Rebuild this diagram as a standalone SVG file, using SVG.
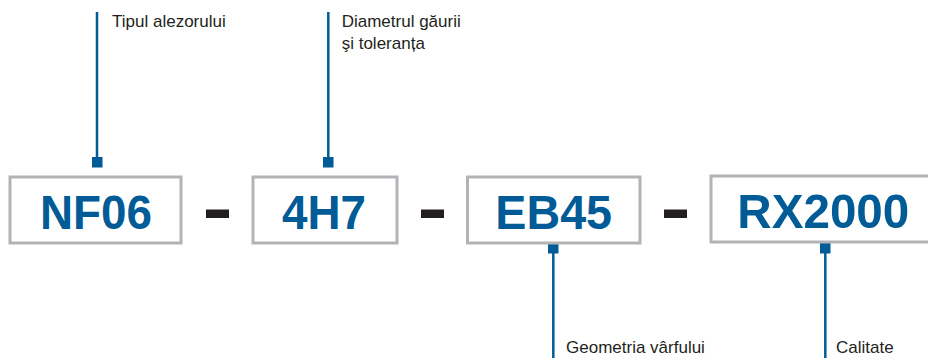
<svg xmlns="http://www.w3.org/2000/svg" width="928" height="358" viewBox="0 0 928 358">
<style>
.box{fill:#fff;stroke:#b1b3b6;stroke-width:3}
.code{font-family:"Liberation Sans",Arial,sans-serif;font-weight:bold;font-size:49px;fill:#005b96;text-anchor:middle}
.lbl{font-family:"Liberation Sans",Arial,sans-serif;font-size:17px;fill:#231f20}
.dash{fill:#231f20}
.ln{stroke:#005b96;stroke-width:2.5;fill:none}
.sq{fill:#005b96}
</style>
<rect width="928" height="358" fill="#fff"/>
<g id="connectors">
<line class="ln" x1="97" y1="12" x2="97" y2="162"/>
<rect class="sq" x="92" y="157" width="10.5" height="10.5"/>
<line class="ln" x1="328.3" y1="12" x2="328.3" y2="162"/>
<rect class="sq" x="323" y="157" width="10.5" height="10.5"/>
<line class="ln" x1="553.3" y1="248" x2="553.3" y2="358"/>
<rect class="sq" x="548" y="243" width="10.5" height="10.5"/>
<line class="ln" x1="825.3" y1="248" x2="825.3" y2="358"/>
<rect class="sq" x="820" y="243" width="10.5" height="10.5"/>
</g>
<g id="node-nf06">
<rect class="box" x="10" y="177" width="171" height="66"/>
<text class="code" x="96" y="229" textLength="112" lengthAdjust="spacingAndGlyphs">NF06</text>
</g>
<g id="node-4h7">
<rect class="box" x="253" y="177" width="144" height="66"/>
<text class="code" x="324" y="229" textLength="84" lengthAdjust="spacingAndGlyphs">4H7</text>
</g>
<g id="node-eb45">
<rect class="box" x="467.5" y="177" width="172.5" height="66"/>
<text class="code" x="553.7" y="229" textLength="116.7" lengthAdjust="spacingAndGlyphs">EB45</text>
</g>
<g id="node-rx2000">
<rect class="box" x="711" y="176" width="230" height="66"/>
<text class="code" x="823.3" y="228" textLength="172" lengthAdjust="spacingAndGlyphs">RX2000</text>
</g>
<g id="dashes">
<rect class="dash" x="206" y="209.5" width="23" height="8.5"/>
<rect class="dash" x="421" y="209.5" width="23" height="8.5"/>
<rect class="dash" x="664" y="209.5" width="23" height="8.5"/>
</g>
<g id="labels">
<text class="lbl" x="112" y="26.7">Tipul alezorului</text>
<text class="lbl" x="341.7" y="26.7">Diametrul găurii</text>
<text class="lbl" x="341.7" y="49">şi toleranța</text>
<text class="lbl" x="566" y="353">Geometria vârfului</text>
<text class="lbl" x="836" y="353">Calitate</text>
</g>
</svg>
